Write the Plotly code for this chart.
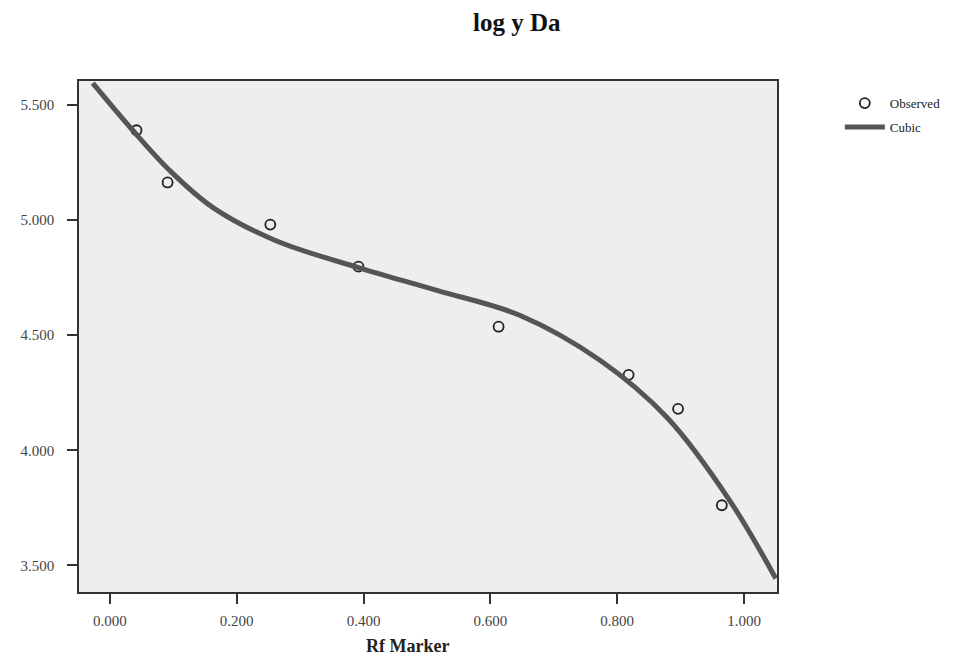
import plotly.graph_objects as go

obs_rf = [0.042, 0.091, 0.253, 0.392, 0.613, 0.818, 0.896, 0.965]
obs_logy = [5.391, 5.164, 4.981, 4.798, 4.537, 4.328, 4.180, 3.761]

# Cubic fit curve
cubic_rf = [-0.027, 0.036, 0.094, 0.162, 0.261, 0.392, 0.517, 0.648, 0.774, 0.879, 0.978, 1.050]
cubic_logy = [5.596, 5.391, 5.217, 5.056, 4.912, 4.794, 4.694, 4.585, 4.389, 4.141, 3.779, 3.443]

x_ticks = [0.0, 0.2, 0.4, 0.6, 0.8, 1.0]
y_ticks = [3.5, 4.0, 4.5, 5.0, 5.5]

FONT = "Liberation Serif, Times New Roman, serif"

fig = go.Figure()
fig.add_trace(go.Scatter(
    x=obs_rf, y=obs_logy, mode="markers", name="Observed", legendgroup="a",
    marker=dict(symbol="circle-open", size=10, color="#222222", line=dict(width=1.8)),
))
fig.add_trace(go.Scatter(
    x=cubic_rf, y=cubic_logy, mode="lines", name="Cubic", legendgroup="b",
    line=dict(color="#555555", width=5, shape="spline"),
))

fig.add_annotation(text="<b>Rf Marker</b>", xref="paper", yref="paper",
                   x=0.471, y=-0.106, xanchor="center", yanchor="middle", showarrow=False,
                   font=dict(family=FONT, size=18, color="#222222"))

fig.update_layout(
    width=960, height=659,
    paper_bgcolor="white", plot_bgcolor="#eeeeee",
    margin=dict(l=69, r=191, t=73, b=75),
    font=dict(family=FONT, color="#333333", size=12),
    title=dict(text="<b>log y Da</b>", x=0.530, xanchor="center", y=0.979, yanchor="middle",
               font=dict(family=FONT, size=25, color="#111111")),
    showlegend=True,
    legend=dict(x=1.09, y=0.986, xanchor="left", yanchor="top",
                bgcolor="rgba(0,0,0,0)", font=dict(family=FONT, size=13, color="#222222"),
                itemwidth=40, traceorder="grouped", tracegroupgap=4),
    xaxis=dict(range=[-0.0487, 1.052], tickvals=x_ticks, tickformat=".3f",
               showgrid=False, zeroline=False, showline=True, linecolor="#333333", linewidth=1.5,
               mirror=True, ticks="outside", ticklen=10, tickwidth=1.5, tickcolor="#333333",
               ticklabelstandoff=4,
               tickfont=dict(family=FONT, size=15, color="#444444")),
    yaxis=dict(range=[3.384, 5.605], tickvals=y_ticks, tickformat=".3f",
               showgrid=False, zeroline=False, showline=True, linecolor="#333333", linewidth=1.5,
               mirror=True, ticks="outside", ticklen=10, tickwidth=1.5, tickcolor="#333333",
               ticklabelstandoff=10,
               tickfont=dict(family=FONT, size=15, color="#444444")),
)

fig.write_html("out.html")
